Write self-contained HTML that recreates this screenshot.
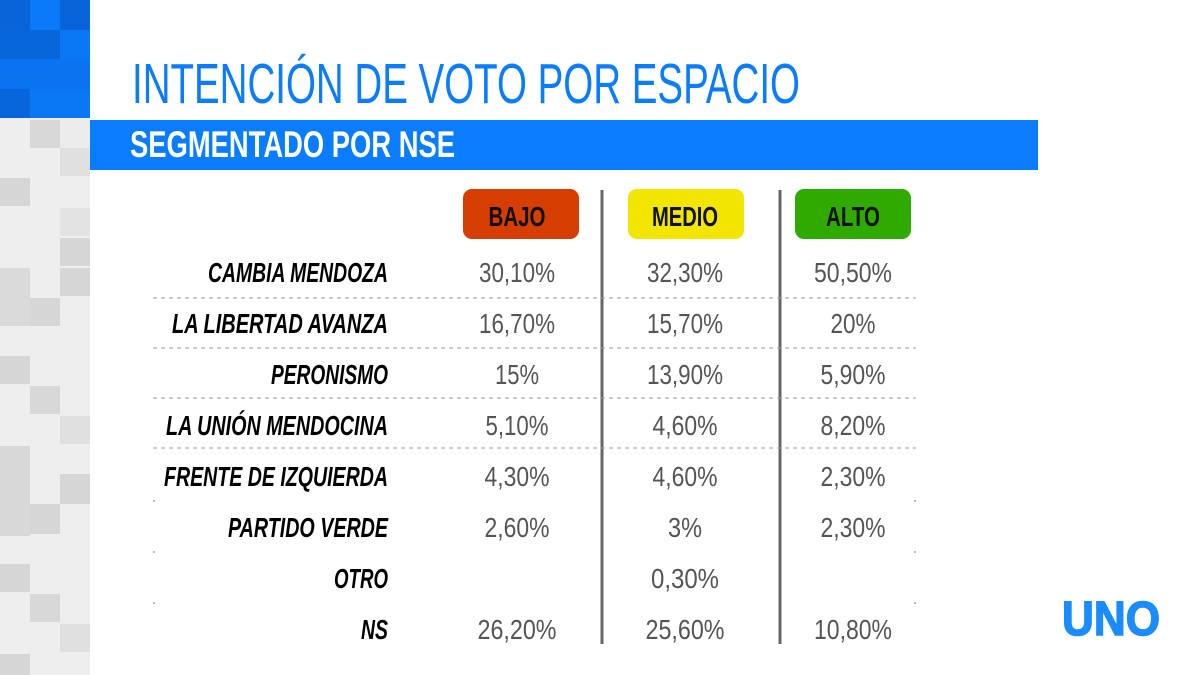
<!DOCTYPE html>
<html><head><meta charset="utf-8"><style>
html,body{margin:0;padding:0;background:#fff;}
svg{display:block;}
text{font-family:"Liberation Sans",sans-serif;}
</style></head><body>
<svg width="1200" height="675" viewBox="0 0 1200 675" xmlns="http://www.w3.org/2000/svg">
<rect width="1200" height="675" fill="#fff"/>
<g>
<rect x="0" y="0" width="90" height="118" fill="#0a78f5"/>
<rect x="0" y="0" width="30" height="30" fill="#0864d8"/>
<rect x="30" y="0" width="30" height="30" fill="#0a7af8"/>
<rect x="60" y="0" width="30" height="30" fill="#0864d8"/>
<rect x="0" y="30" width="60" height="29" fill="#0866dc"/>
<rect x="60" y="30" width="30" height="29" fill="#0a78f5"/>
<rect x="0" y="59" width="90" height="30" fill="#0a74f0"/>
<rect x="0" y="89" width="30" height="29" fill="#0866dc"/>
<rect x="30" y="89" width="60" height="29" fill="#0a78f5"/>
</g>
<g>
<rect x="0" y="118" width="90" height="557" fill="#eeeeee"/>
<rect x="30" y="120" width="30" height="28" fill="#d8d8d8"/>
<rect x="60" y="120" width="30" height="28" fill="#ebebeb"/>
<rect x="60" y="148" width="30" height="28" fill="#e0e0e0"/>
<rect x="0" y="178" width="30" height="28" fill="#d6d6d6"/>
<rect x="60" y="208" width="30" height="28" fill="#e3e3e3"/>
<rect x="60" y="238" width="30" height="28" fill="#d6d6d6"/>
<rect x="0" y="268" width="30" height="58" fill="#dadada"/>
<rect x="60" y="268" width="30" height="28" fill="#d6d6d6"/>
<rect x="30" y="298" width="30" height="28" fill="#d6d6d6"/>
<rect x="0" y="356" width="30" height="28" fill="#d6d6d6"/>
<rect x="30" y="386" width="30" height="28" fill="#d8d8d8"/>
<rect x="60" y="416" width="30" height="28" fill="#e0e0e0"/>
<rect x="0" y="446" width="30" height="90" fill="#d8d8d8"/>
<rect x="60" y="474" width="30" height="30" fill="#d6d6d6"/>
<rect x="30" y="504" width="30" height="30" fill="#d6d6d6"/>
<rect x="0" y="564" width="30" height="28" fill="#d6d6d6"/>
<rect x="30" y="594" width="30" height="28" fill="#d8d8d8"/>
<rect x="60" y="624" width="30" height="28" fill="#e0e0e0"/>
<rect x="0" y="654" width="30" height="21" fill="#d6d6d6"/>
</g>
<text x="132" y="103" font-size="57" fill="#0a7cff" textLength="668" lengthAdjust="spacingAndGlyphs">INTENCIÓN DE VOTO POR ESPACIO</text>
<rect x="90" y="120" width="948" height="50" fill="#0a7cff"/>
<text x="130" y="157" font-size="37" font-weight="bold" fill="#fff" textLength="325" lengthAdjust="spacingAndGlyphs">SEGMENTADO POR NSE</text>
<rect x="463" y="189" width="116" height="50" rx="9" fill="#d63d00"/>
<rect x="628" y="189" width="116" height="50" rx="9" fill="#f2e600"/>
<rect x="795" y="189" width="116" height="50" rx="9" fill="#2eaa00"/>
<g font-size="28" font-weight="bold" fill="#111" text-anchor="middle">
<text x="517" y="226" textLength="57" lengthAdjust="spacingAndGlyphs">BAJO</text>
<text x="685" y="226" textLength="66" lengthAdjust="spacingAndGlyphs">MEDIO</text>
<text x="853" y="226" textLength="54" lengthAdjust="spacingAndGlyphs">ALTO</text>
</g>
<line x1="602" y1="190" x2="602" y2="644" stroke="#666" stroke-width="3"/>
<line x1="780" y1="190" x2="780" y2="644" stroke="#666" stroke-width="3"/>
<g stroke="#999" stroke-width="1" stroke-dasharray="4,4">
<line x1="153" y1="298" x2="916" y2="298"/>
<line x1="153" y1="348" x2="916" y2="348"/>
<line x1="153" y1="398" x2="916" y2="398"/>
<line x1="153" y1="448" x2="916" y2="448"/>
</g>
<g fill="#bbb">
<rect x="153" y="500" width="2" height="2"/><rect x="914" y="500" width="2" height="2"/>
<rect x="153" y="551" width="2" height="2"/><rect x="914" y="551" width="2" height="2"/>
<rect x="153" y="602" width="2" height="2"/><rect x="914" y="602" width="2" height="2"/>
</g>
<g font-size="28" font-weight="bold" font-style="italic" fill="#000" text-anchor="end">
<text x="388" y="282" textLength="180" lengthAdjust="spacingAndGlyphs">CAMBIA MENDOZA</text>
<text x="388" y="333" textLength="216" lengthAdjust="spacingAndGlyphs">LA LIBERTAD AVANZA</text>
<text x="388" y="384" textLength="117" lengthAdjust="spacingAndGlyphs">PERONISMO</text>
<text x="388" y="435" textLength="222" lengthAdjust="spacingAndGlyphs">LA UNIÓN MENDOCINA</text>
<text x="388" y="486" textLength="224" lengthAdjust="spacingAndGlyphs">FRENTE DE IZQUIERDA</text>
<text x="388" y="537" textLength="160" lengthAdjust="spacingAndGlyphs">PARTIDO VERDE</text>
<text x="388" y="588" textLength="54" lengthAdjust="spacingAndGlyphs">OTRO</text>
<text x="388" y="639" textLength="27" lengthAdjust="spacingAndGlyphs">NS</text>
</g>
<g font-size="28" fill="#555" text-anchor="middle">
<text x="517" y="282" textLength="76" lengthAdjust="spacingAndGlyphs">30,10%</text>
<text x="685" y="282" textLength="76" lengthAdjust="spacingAndGlyphs">32,30%</text>
<text x="853" y="282" textLength="78" lengthAdjust="spacingAndGlyphs">50,50%</text>
<text x="517" y="333" textLength="76" lengthAdjust="spacingAndGlyphs">16,70%</text>
<text x="685" y="333" textLength="76" lengthAdjust="spacingAndGlyphs">15,70%</text>
<text x="853" y="333" textLength="45" lengthAdjust="spacingAndGlyphs">20%</text>
<text x="517" y="384" textLength="44" lengthAdjust="spacingAndGlyphs">15%</text>
<text x="685" y="384" textLength="76" lengthAdjust="spacingAndGlyphs">13,90%</text>
<text x="853" y="384" textLength="65" lengthAdjust="spacingAndGlyphs">5,90%</text>
<text x="517" y="435" textLength="63" lengthAdjust="spacingAndGlyphs">5,10%</text>
<text x="685" y="435" textLength="65" lengthAdjust="spacingAndGlyphs">4,60%</text>
<text x="853" y="435" textLength="65" lengthAdjust="spacingAndGlyphs">8,20%</text>
<text x="517" y="486" textLength="65" lengthAdjust="spacingAndGlyphs">4,30%</text>
<text x="685" y="486" textLength="65" lengthAdjust="spacingAndGlyphs">4,60%</text>
<text x="853" y="486" textLength="65" lengthAdjust="spacingAndGlyphs">2,30%</text>
<text x="517" y="537" textLength="65" lengthAdjust="spacingAndGlyphs">2,60%</text>
<text x="685" y="537" textLength="34" lengthAdjust="spacingAndGlyphs">3%</text>
<text x="853" y="537" textLength="65" lengthAdjust="spacingAndGlyphs">2,30%</text>
<text x="685" y="588" textLength="68" lengthAdjust="spacingAndGlyphs">0,30%</text>
<text x="517" y="639" textLength="79" lengthAdjust="spacingAndGlyphs">26,20%</text>
<text x="685" y="639" textLength="79" lengthAdjust="spacingAndGlyphs">25,60%</text>
<text x="853" y="639" textLength="78" lengthAdjust="spacingAndGlyphs">10,80%</text>
</g>
<text x="1111" y="635" font-size="48" font-weight="bold" fill="#1a8cff" stroke="#1a8cff" stroke-width="1.5" text-anchor="middle" textLength="98" lengthAdjust="spacingAndGlyphs">UNO</text>
</svg>
</body></html>
